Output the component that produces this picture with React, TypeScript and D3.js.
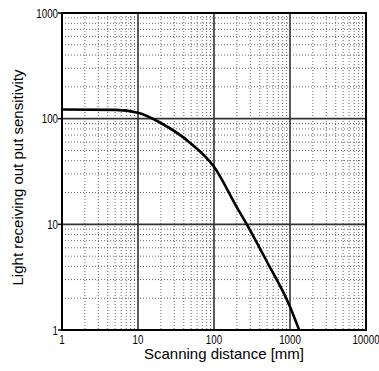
import React from "react";
import * as d3 from "d3";

const distances = [1, 5, 10, 20, 50, 100, 200, 270, 500, 1000, 1320];
const sensitivity = [122, 121, 114, 91, 58, 35, 14.5, 10, 4.4, 1.66, 1];
const xTicks = [1, 10, 100, 1000, 10000];
const yTicks = [1, 10, 100, 1000];
const xTitle = "Scanning distance [mm]";
const yTitle = "Light receiving out put sensitivity";

const W = 379;
const H = 371;
const L = 62, R = 366, T = 13, B = 330;

export default function App() {
  const x = d3.scaleLog().domain([1, 10000]).range([L, R]);
  const y = d3.scaleLog().domain([1, 1000]).range([B, T]);

  const minorX: number[] = [];
  for (let d = 1; d < 10000; d *= 10) for (let k = 2; k <= 9; k++) minorX.push(d * k);
  const minorY: number[] = [];
  for (let d = 1; d < 1000; d *= 10) for (let k = 2; k <= 9; k++) minorY.push(d * k);

  const pts = distances.map((d, i) => [x(d), y(sensitivity[i])] as [number, number]);
  const line = d3.line().curve(d3.curveMonotoneX)(pts) || "";

  const tickFont = { fontFamily: "Liberation Sans, Arial, sans-serif", fontSize: 13 };

  return (
    <svg width={W} height={H} style={{ position: "absolute", left: 0, top: 0, background: "#fff" }}>
      <defs>
        <clipPath id="plot">
          <rect x={L} y={T} width={R - L} height={B - T} />
        </clipPath>
      </defs>
      {minorX.map((v) => (
        <line key={"mx" + v} x1={x(v)} x2={x(v)} y1={T} y2={B} stroke="#666" strokeWidth={1} strokeDasharray="1 2" />
      ))}
      {minorY.map((v) => (
        <line key={"my" + v} x1={L} x2={R} y1={y(v)} y2={y(v)} stroke="#666" strokeWidth={1} strokeDasharray="1 2" />
      ))}
      {xTicks.slice(1, -1).map((v) => (
        <line key={"Mx" + v} x1={x(v)} x2={x(v)} y1={T} y2={B} stroke="#333" strokeWidth={1.6} />
      ))}
      {yTicks.slice(1, -1).map((v) => (
        <line key={"My" + v} x1={L} x2={R} y1={y(v)} y2={y(v)} stroke="#333" strokeWidth={1.6} />
      ))}
      <path d={line} fill="none" stroke="#000" strokeWidth={2.6} clipPath="url(#plot)" />
      <rect x={L} y={T} width={R - L} height={B - T} fill="none" stroke="#000" strokeWidth={2} />
      {yTicks.map((v) => (
        <line key={"ty" + v} x1={L - 4} x2={L} y1={y(v)} y2={y(v)} stroke="#000" strokeWidth={1.5} />
      ))}
      {yTicks.map((v) => (
        <g key={"ly" + v} transform={`translate(${L - 4},${y(v) + 4.5}) scale(0.75,1)`}>
          <text textAnchor="end" {...tickFont}>{v}</text>
        </g>
      ))}
      {xTicks.map((v) => (
        <g key={"lx" + v} transform={`translate(${x(v)},${344}) scale(0.75,1)`}>
          <text textAnchor="middle" {...tickFont}>{v}</text>
        </g>
      ))}
      <text x={(L + R) / 2 + 10} y={359} textAnchor="middle" fontFamily="Liberation Sans, Arial, sans-serif" fontSize={15}>
        {xTitle}
      </text>
      <text
        transform={`translate(23,${(T + B) / 2 + 6}) rotate(-90)`}
        textAnchor="middle"
        fontFamily="Liberation Sans, Arial, sans-serif"
        fontSize={15}
      >
        {yTitle}
      </text>
    </svg>
  );
}
